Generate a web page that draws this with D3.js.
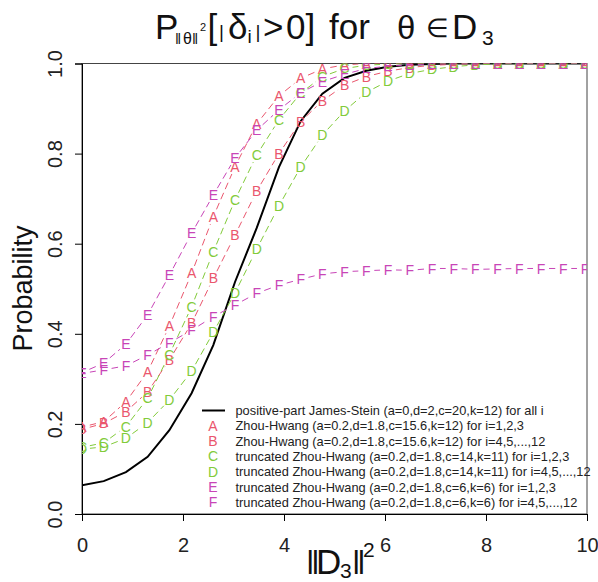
<!DOCTYPE html>
<html><head><meta charset="utf-8">
<script src="https://cdn.jsdelivr.net/npm/d3@7/dist/d3.min.js"></script>
<style>
body{margin:0;background:#fff}
svg{display:block}
text{font-family:"Liberation Sans",Arial,sans-serif}
</style>
</head><body>
<svg id="chart" width="598" height="582"></svg>
<script>
// ---------------- data ----------------
const xValues = [0, 0.43, 0.87, 1.3, 1.73, 2.17, 2.6, 3.03, 3.46, 3.9, 4.33, 4.76, 5.2, 5.63, 6.06, 6.49, 6.93, 7.36, 7.79, 8.23, 8.66, 9.09, 9.53, 9.96];
const jamesStein = [0.064, 0.073, 0.093, 0.127, 0.186, 0.268, 0.375, 0.515, 0.635, 0.77, 0.872, 0.933, 0.968, 0.984, 0.993, 0.997, 0.999, 1, 1, 1, 1, 1, 1, 1];
const zhouHwangA = [0.193, 0.205, 0.249, 0.316, 0.417, 0.534, 0.66, 0.771, 0.866, 0.928, 0.967, 0.988, 0.997, 1, 1, 1, 1, 1, 1, 1, 1, 1, 1, 1];
const zhouHwangB = [0.188, 0.201, 0.227, 0.271, 0.342, 0.423, 0.523, 0.619, 0.717, 0.8, 0.871, 0.917, 0.952, 0.971, 0.983, 0.991, 0.996, 0.998, 1, 1, 1, 1, 1, 1];
const truncZHC = [0.148, 0.158, 0.194, 0.257, 0.354, 0.46, 0.582, 0.697, 0.797, 0.875, 0.934, 0.971, 0.989, 0.996, 0.999, 1, 1, 1, 1, 1, 1, 1, 1, 1];
const truncZHD = [0.144, 0.149, 0.168, 0.203, 0.253, 0.317, 0.403, 0.491, 0.588, 0.684, 0.77, 0.841, 0.895, 0.936, 0.961, 0.978, 0.987, 0.993, 0.997, 0.999, 1, 1, 1, 1];
const truncZHE = [0.314, 0.335, 0.377, 0.442, 0.53, 0.623, 0.708, 0.79, 0.852, 0.897, 0.935, 0.96, 0.976, 0.989, 0.994, 0.997, 0.999, 1, 1, 1, 1, 1, 1, 1];
const truncZHF = [0.312, 0.32, 0.329, 0.353, 0.38, 0.408, 0.438, 0.464, 0.49, 0.508, 0.521, 0.533, 0.538, 0.54, 0.542, 0.541, 0.545, 0.545, 0.543, 0.544, 0.545, 0.545, 0.545, 0.545];
const seriesLetters = ["A", "B", "C", "D", "E", "F"];
const legendLabels = [
  "positive-part James-Stein (a=0,d=2,c=20,k=12) for all i",
  "Zhou-Hwang (a=0.2,d=1.8,c=15.6,k=12) for i=1,2,3",
  "Zhou-Hwang (a=0.2,d=1.8,c=15.6,k=12) for i=4,5,...,12",
  "truncated Zhou-Hwang (a=0.2,d=1.8,c=14,k=11) for i=1,2,3",
  "truncated Zhou-Hwang (a=0.2,d=1.8,c=14,k=11) for i=4,5,...,12",
  "truncated Zhou-Hwang (a=0.2,d=1.8,c=6,k=6) for i=1,2,3",
  "truncated Zhou-Hwang (a=0.2,d=1.8,c=6,k=6) for i=4,5,...,12"
];
const xTicks = [0, 2, 4, 6, 8, 10];
const yTicks = [0, 0.2, 0.4, 0.6, 0.8, 1.0];

// ---------------- style ----------------
const colRed = "#ea566d", colGreen = "#82cb3a", colMag = "#c845b7";
const seriesColors = [colRed, colRed, colGreen, colGreen, colMag, colMag];
const letterSeries = [zhouHwangA, zhouHwangB, truncZHC, truncZHD, truncZHE, truncZHF];

const svg = d3.select("#chart");
const L = 82, R = 587, T = 63.5, B = 514;
const x = d3.scaleLinear().domain([0, 10]).range([L, R]);
const y = d3.scaleLinear().domain([0, 1]).range([B, T]);

svg.append("defs").append("clipPath").attr("id", "clip")
  .append("rect").attr("x", L).attr("y", T).attr("width", R - L).attr("height", B - T);

// box
svg.append("rect").attr("x", L).attr("y", T).attr("width", R - L).attr("height", B - T)
  .attr("fill", "none").attr("stroke", "#444").attr("stroke-width", 1);

// axes
const gx = svg.append("g").attr("transform", `translate(0,${B})`)
  .call(d3.axisBottom(x).tickValues(xTicks).tickSize(7).tickPadding(17).tickFormat(d3.format("d")));
gx.select(".domain").attr("stroke", "#000");
gx.selectAll("line").attr("stroke", "#000");
gx.selectAll("text").attr("font-size", 20).attr("fill", "#222").attr("font-family", "Liberation Sans, Arial, sans-serif");

const gy = svg.append("g").attr("transform", `translate(${L},0)`)
  .call(d3.axisLeft(y).tickValues(yTicks).tickSize(7).tickFormat(d3.format(".1f")));
gy.select(".domain").attr("stroke", "#000");
gy.selectAll("line").attr("stroke", "#000");
gy.selectAll("text").attr("font-size", 20).attr("fill", "#222")
  .attr("font-family", "Liberation Sans, Arial, sans-serif")
  .attr("text-anchor", "middle").attr("dy", null)
  .attr("x", null)
  .attr("transform", "translate(-20.5,0) rotate(-90)");

// plot content
const plot = svg.append("g").attr("clip-path", "url(#clip)");

// black line
const line = d3.line().x((d, i) => x(xValues[i])).y(d => y(d));
plot.append("path").datum(jamesStein).attr("d", line)
  .attr("fill", "none").attr("stroke", "#000").attr("stroke-width", 2);

// letter series with type="b" style gaps
const gap = 8;
letterSeries.forEach((vals, s) => {
  const g = plot.append("g");
  const pts = vals.map((v, i) => [x(xValues[i]), y(v)]);
  for (let i = 0; i < pts.length - 1; i++) {
    const [x0, y0] = pts[i], [x1, y1] = pts[i + 1];
    const dx = x1 - x0, dy = y1 - y0, len = Math.hypot(dx, dy);
    if (len <= 2 * gap) continue;
    const ux = dx / len, uy = dy / len;
    g.append("line")
      .attr("x1", x0 + ux * gap).attr("y1", y0 + uy * gap)
      .attr("x2", x1 - ux * gap).attr("y2", y1 - uy * gap)
      .attr("stroke", seriesColors[s]).attr("stroke-width", 1)
      .attr("stroke-dasharray", "7,4");
  }
  g.selectAll("text").data(pts).join("text")
    .attr("x", d => d[0]).attr("y", d => d[1])
    .attr("dy", "0.36em").attr("text-anchor", "middle")
    .attr("font-size", 14).attr("fill", seriesColors[s])
    .text(seriesLetters[s]);
});

// legend
const lg = svg.append("g");
const legY0 = 410.5, legStep = 15.3;
lg.append("line").attr("x1", 202).attr("x2", 225).attr("y1", legY0).attr("y2", legY0)
  .attr("stroke", "#000").attr("stroke-width", 2);
seriesLetters.forEach((l, i) => {
  lg.append("text").attr("x", 213).attr("y", legY0 + (i + 1) * legStep).attr("dy", "0.36em")
    .attr("text-anchor", "middle").attr("font-size", 14).attr("fill", seriesColors[i]).text(l);
});
legendLabels.forEach((t, i) => {
  lg.append("text").attr("x", 235.5).attr("y", legY0 + i * legStep).attr("dy", "0.36em")
    .attr("font-size", 12.8).attr("fill", "#222").text(t);
});

// title (plotmath-like)
const serif = "Liberation Serif, DejaVu Serif, serif";
const tt = svg.append("g").attr("fill", "#111");
function piece(g, txt, px, py, size, font) {
  g.append("text").attr("x", px).attr("y", py).attr("font-size", size)
    .attr("font-family", font || "Liberation Sans, Arial, sans-serif").text(txt);
}
piece(tt, "P", 155, 38.5, 35);
piece(tt, "\u2016", 175, 44, 15, "DejaVu Sans");
piece(tt, "\u03b8", 183, 44, 16, serif);
piece(tt, "\u2016", 192, 44, 15, "DejaVu Sans");
piece(tt, "2", 200, 31, 11);
piece(tt, "[", 207.5, 38.5, 35);
piece(tt, "|", 219, 38, 19);
piece(tt, "\u03b4", 228, 38.5, 35, serif);
piece(tt, "i", 247.5, 43, 19);
piece(tt, "|", 255.5, 38, 19);
piece(tt, ">", 263, 38.5, 35);
piece(tt, "0]", 286, 38.5, 35);
piece(tt, "for", 329, 38.5, 35);
piece(tt, "\u03b8", 397, 38.5, 33, serif);
piece(tt, "\u2208", 426, 37, 26, serif);
piece(tt, "D", 452, 38.5, 35);
piece(tt, "3", 482, 45, 21);

// y label
svg.append("text").attr("transform", `translate(32,288.5) rotate(-90)`)
  .attr("text-anchor", "middle").attr("font-size", 27).attr("fill", "#111").text("Probability");

// x label
const xl = svg.append("g").attr("fill", "#111");
piece(xl, "\u2016", 306, 574, 33, "DejaVu Sans");
piece(xl, "D", 316, 574, 35);
piece(xl, "3", 340, 578, 21);
piece(xl, "\u2016", 352, 574, 33, "DejaVu Sans");
piece(xl, "2", 363, 557, 21);
</script>
</body></html>
